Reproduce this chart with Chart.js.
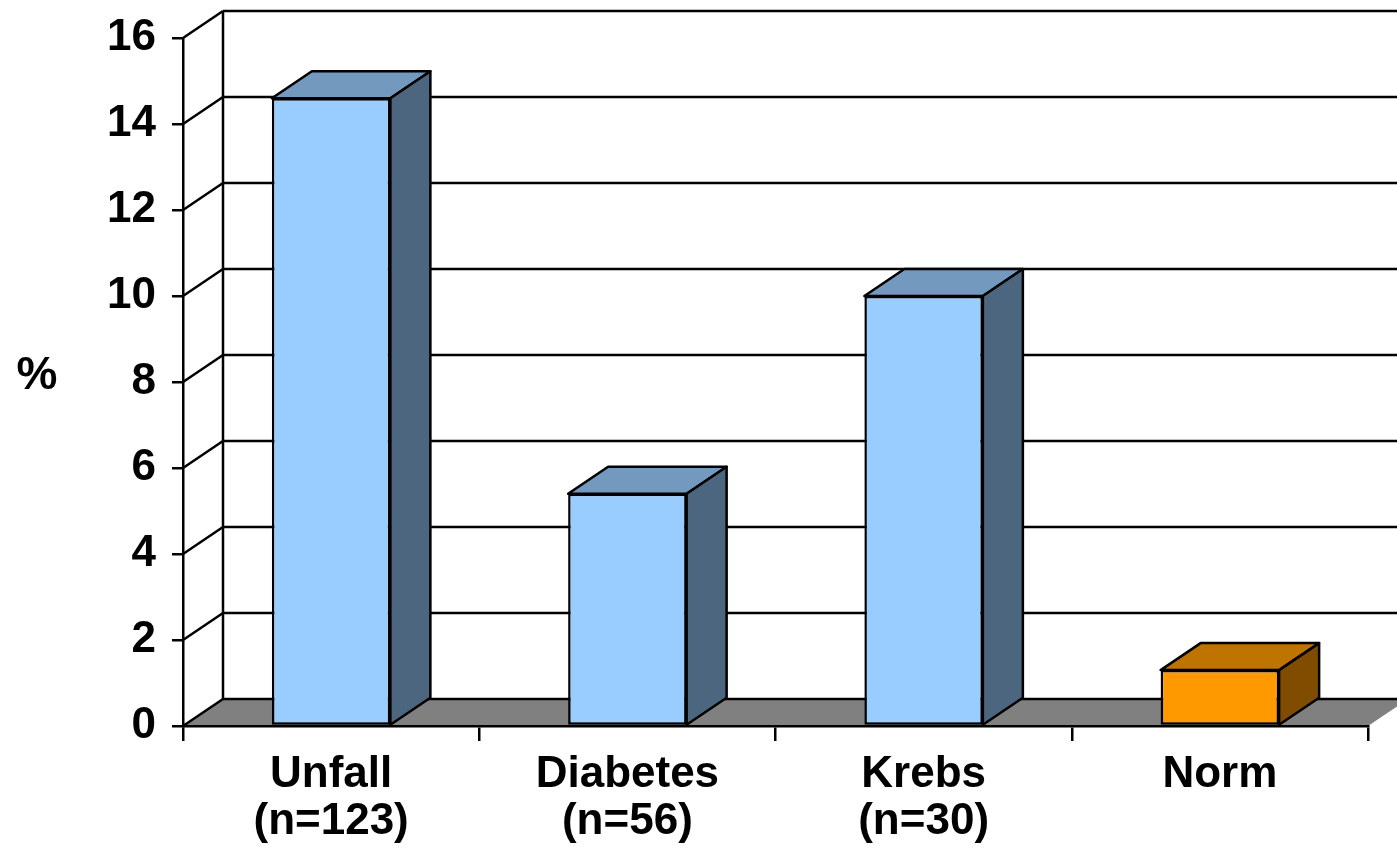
<!DOCTYPE html>
<html>
<head>
<meta charset="utf-8">
<script src="https://cdn.jsdelivr.net/npm/chart.js@4/dist/chart.umd.min.js"></script>
<style>
  html, body { margin: 0; padding: 0; background: #fff; }
  canvas { display: block; }
</style>
</head>
<body>
<canvas id="chart" width="1397" height="851"></canvas>
<script>
const categories = [['Unfall', '(n=123)'], ['Diabetes', '(n=56)'], ['Krebs', '(n=30)'], ['Norm']];
const percentValues = [14.6, 5.4, 10.0, 1.3];
const yTicks = [0, 2, 4, 6, 8, 10, 12, 14, 16];

const frontColors = ['#99CCFF', '#99CCFF', '#99CCFF', '#FF9900'];
const topColors = ['#7399BF', '#7399BF', '#7399BF', '#BF7300'];
const sideColors = ['#4D6680', '#4D6680', '#4D6680', '#804D00'];

const FONT = "'Liberation Sans', Arial, sans-serif";
const DX = 40, DY = 27;
const LW = 2.5;

function line(ctx, x1, y1, x2, y2) {
  ctx.beginPath();
  ctx.moveTo(x1, y1);
  ctx.lineTo(x2, y2);
  ctx.stroke();
}

const depthPlugin = {
  id: 'depth3d',
  beforeDraw(chart) {
    const { ctx, chartArea: a, scales: { y } } = chart;
    const y0 = y.getPixelForValue(0);
    ctx.save();
    // floor
    ctx.fillStyle = '#808080';
    ctx.beginPath();
    ctx.moveTo(a.left, y0);
    ctx.lineTo(a.right, y0);
    ctx.lineTo(a.right + DX, y0 - DY);
    ctx.lineTo(a.left + DX, y0 - DY);
    ctx.closePath();
    ctx.fill();
    // walls and gridlines
    ctx.strokeStyle = '#000';
    ctx.lineWidth = LW;
    yTicks.forEach(v => {
      const py = y.getPixelForValue(v);
      line(ctx, a.left, py, a.left + DX, py - DY);
      line(ctx, a.left + DX, py - DY, chart.width, py - DY);
    });
    line(ctx, a.left + DX, y.getPixelForValue(16) - DY, a.left + DX, y0 - DY);
    ctx.restore();
  },
  afterDatasetsDraw(chart) {
    const { ctx } = chart;
    const meta = chart.getDatasetMeta(0);
    ctx.save();
    ctx.strokeStyle = '#000';
    ctx.lineWidth = LW;
    ctx.lineJoin = 'round';
    meta.data.forEach((bar, i) => {
      const L = bar.x - bar.width / 2, R = bar.x + bar.width / 2;
      const top = bar.y, base = bar.base;
      ctx.fillStyle = topColors[i];
      ctx.beginPath();
      ctx.moveTo(L, top);
      ctx.lineTo(L + DX, top - DY);
      ctx.lineTo(R + DX, top - DY);
      ctx.lineTo(R, top);
      ctx.closePath();
      ctx.fill();
      ctx.stroke();
      ctx.fillStyle = sideColors[i];
      ctx.beginPath();
      ctx.moveTo(R, top);
      ctx.lineTo(R + DX, top - DY);
      ctx.lineTo(R + DX, base - DY);
      ctx.lineTo(R, base);
      ctx.closePath();
      ctx.fill();
      ctx.stroke();
    });
    ctx.restore();
  },
  afterDraw(chart) {
    const { ctx, chartArea: a } = chart;
    ctx.save();
    ctx.fillStyle = '#000';
    ctx.font = 'bold 46px ' + FONT;
    ctx.textAlign = 'center';
    ctx.textBaseline = 'middle';
    ctx.fillText('%', 37, (a.top + a.bottom) / 2 - 6);
    ctx.restore();
  }
};

new Chart(document.getElementById('chart'), {
  type: 'bar',
  data: {
    labels: categories,
    datasets: [{
      data: percentValues,
      backgroundColor: frontColors,
      borderColor: '#000',
      borderWidth: LW,
      borderSkipped: false,
      barPercentage: 0.4,
      categoryPercentage: 1.0
    }]
  },
  options: {
    responsive: false,
    animation: false,
    layout: { padding: { top: 38, right: 29, left: 0, bottom: 0 } },
    plugins: { legend: { display: false }, tooltip: { enabled: false } },
    scales: {
      x: {
        afterFit(scale) { scale.height = 125; },
        grid: { offset: true, drawOnChartArea: false, drawTicks: true, tickLength: 15, color: '#000', lineWidth: LW },
        border: { color: '#000', width: LW },
        ticks: { color: '#000', padding: 10, maxRotation: 0, font: { family: FONT, size: 44, weight: 'bold', lineHeight: 1.07 } }
      },
      y: {
        min: 0,
        max: 16,
        afterFit(scale) { scale.width = 183; },
        afterBuildTicks(scale) { scale.ticks = yTicks.map(v => ({ value: v })); },
        grid: { drawOnChartArea: false, drawTicks: true, tickLength: 11, color: '#000', lineWidth: LW },
        border: { color: '#000', width: LW },
        ticks: { color: '#000', padding: 16, font: { family: FONT, size: 44, weight: 'bold', lineHeight: 0.9 } }
      }
    }
  },
  plugins: [depthPlugin]
});
</script>
</body>
</html>
